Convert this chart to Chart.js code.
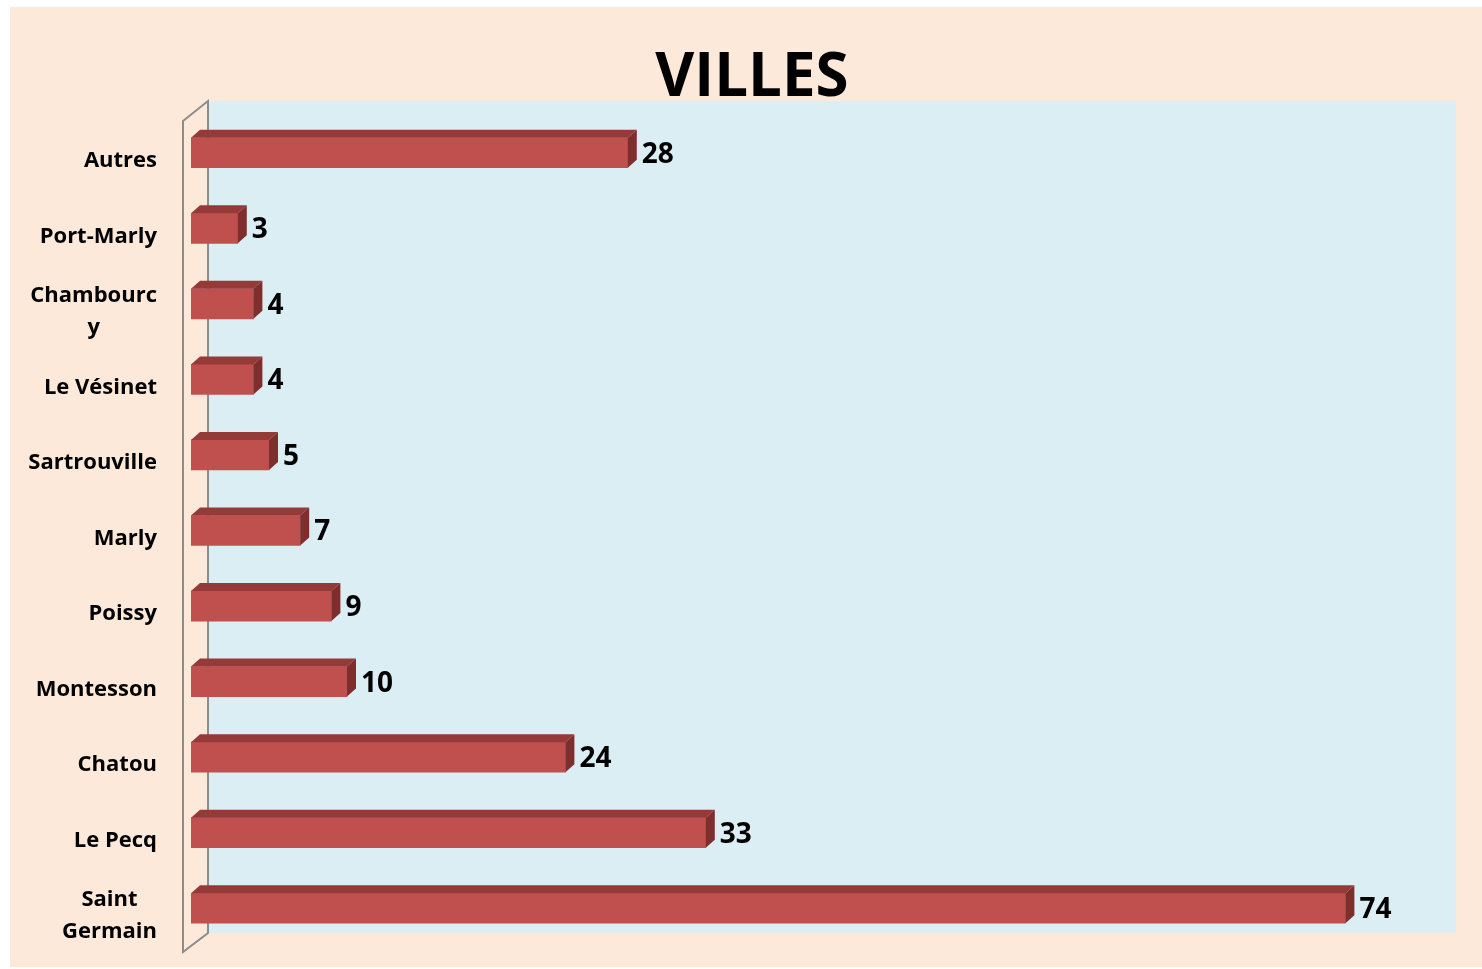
<!DOCTYPE html>
<html lang="fr">
  <head>
    <meta charset="UTF-8">
    <title>Villes</title>
    <script src="https://cdn.jsdelivr.net/npm/chart.js"></script>
    <style>
      body { margin: 0; background: #ffffff; }
      .cadre { position: absolute; left: 10px; top: 7px; width: 1472px; height: 960px; background: #fde9d9; }
    </style>
  </head>
  <body>
    <div class="cadre">
      <canvas id="graphVilles" width="1472" height="960"></canvas>
    </div>
    <script>
      // données
      const villes = ['Autres', 'Port-Marly', ['Chambourc', 'y'], 'Le Vésinet', 'Sartrouville',
                      'Marly', 'Poissy', 'Montesson', 'Chatou', 'Le Pecq', ['Saint', 'Germain']];
      const effectifs = [28, 3, 4, 4, 5, 7, 9, 10, 24, 33, 74];
      const axeMax = 80;

      // profondeur 3D des barres et du mur
      const prof = { dx: 9, dy: -8 };

      // mur du fond + paroi gauche
      const murPlugin = {
        id: 'mur',
        beforeDraw(chart) {
          const { ctx, chartArea: a } = chart;
          ctx.save();
          ctx.fillStyle = '#dbeef4';
          ctx.fillRect(a.left + 17, a.top - 14, a.right - a.left, (a.bottom - 13) - (a.top - 14));
          ctx.strokeStyle = '#8c8c8c';
          ctx.lineWidth = 2;
          ctx.beginPath();
          ctx.moveTo(a.left - 8, a.top + 6);
          ctx.lineTo(a.left + 17, a.top - 14);
          ctx.lineTo(a.left + 17, a.bottom - 13);
          ctx.lineTo(a.left - 8, a.bottom + 6);
          ctx.closePath();
          ctx.stroke();
          ctx.restore();
        }
      };

      // faces du dessus et de côté + étiquettes de valeur
      const barres3D = {
        id: 'barres3D',
        afterDatasetsDraw(chart) {
          const ctx = chart.ctx;
          const meta = chart.getDatasetMeta(0);
          ctx.save();
          meta.data.forEach((bar, i) => {
            const h = bar.height;
            const haut = bar.y - h / 2, bas = bar.y + h / 2;
            ctx.fillStyle = '#943a38';
            ctx.beginPath();
            ctx.moveTo(bar.base, haut);
            ctx.lineTo(bar.base + prof.dx, haut + prof.dy);
            ctx.lineTo(bar.x + prof.dx, haut + prof.dy);
            ctx.lineTo(bar.x, haut);
            ctx.closePath();
            ctx.fill();
            ctx.fillStyle = '#7e2f2d';
            ctx.beginPath();
            ctx.moveTo(bar.x, haut);
            ctx.lineTo(bar.x + prof.dx, haut + prof.dy);
            ctx.lineTo(bar.x + prof.dx, bas + prof.dy);
            ctx.lineTo(bar.x, bas);
            ctx.closePath();
            ctx.fill();

            ctx.fillStyle = '#000000';
            ctx.font = 'bold 28px "Open Sans"';
            ctx.textAlign = 'left';
            ctx.textBaseline = 'middle';
            ctx.fillText(effectifs[i], bar.x + prof.dx + 5, bar.y + 2);
          });
          ctx.restore();
        }
      };

      // noms des villes, alignés à droite, lignes centrées entre elles
      const etiquettes = {
        id: 'etiquettes',
        afterDraw(chart) {
          const ctx = chart.ctx;
          const y = chart.scales.y;
          const droite = 147;
          ctx.save();
          ctx.fillStyle = '#000000';
          ctx.font = 'bold 22px "Open Sans"';
          ctx.textAlign = 'center';
          ctx.textBaseline = 'middle';
          villes.forEach((v, i) => {
            const lignes = Array.isArray(v) ? v : [v];
            const large = Math.max(...lignes.map(l => ctx.measureText(l).width));
            const cx = droite - large / 2;
            const cy = y.getPixelForTick(i) + 8;
            lignes.forEach((l, k) => {
              ctx.fillText(l, cx, cy + (k - (lignes.length - 1) / 2) * 32);
            });
          });
          ctx.restore();
        }
      };

      const ctx = document.getElementById('graphVilles');
      new Chart(ctx, {
        type: 'bar',
        data: {
          labels: villes,
          datasets: [{
            data: effectifs,
            backgroundColor: '#c0504d',
            borderWidth: 0,
            barThickness: 30
          }]
        },
        options: {
          indexAxis: 'y',
          responsive: false,
          animation: false,
          layout: { padding: { left: 55, right: 43, bottom: 21, top: 0 } },
          plugins: {
            legend: { display: false },
            tooltip: { enabled: false },
            title: {
              display: true,
              text: 'VILLES',
              color: '#000000',
              font: { family: 'Open Sans', size: 60, weight: 'bold', lineHeight: 1.2 },
              padding: { top: 36, bottom: 0 }
            }
          },
          scales: {
            x: { min: 0, max: axeMax, display: false },
            y: {
              grid: { display: false },
              border: { display: false },
              ticks: { display: false },
              afterFit(scale) { scale.width = 126; }
            }
          }
        },
        plugins: [murPlugin, barres3D, etiquettes]
      });
    </script>
  </body>
</html>
